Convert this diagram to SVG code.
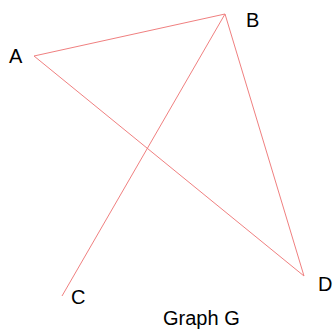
<svg xmlns="http://www.w3.org/2000/svg" width="335" height="333" viewBox="0 0 335 333">
<style>
.edge{stroke:#f08080;stroke-width:1;fill:none}
.lbl{font-family:"Liberation Sans",Arial,sans-serif;font-size:20px;fill:#000}
</style>
<rect width="335" height="333" fill="#fff"/>
<g id="connectors">
<line class="edge" x1="34" y1="56" x2="225" y2="14"/>
<line class="edge" x1="34" y1="56" x2="304" y2="276"/>
<line class="edge" x1="225" y1="14" x2="62" y2="296"/>
<line class="edge" x1="225" y1="14" x2="304" y2="276"/>
</g>
<g id="A"><text class="lbl" x="9" y="63">A</text></g>
<g id="B"><text class="lbl" x="246" y="27">B</text></g>
<g id="C"><text class="lbl" x="71" y="304">C</text></g>
<g id="D"><text class="lbl" x="318" y="291">D</text></g>
<g id="title"><text class="lbl" x="163" y="325">Graph G</text></g>
</svg>
